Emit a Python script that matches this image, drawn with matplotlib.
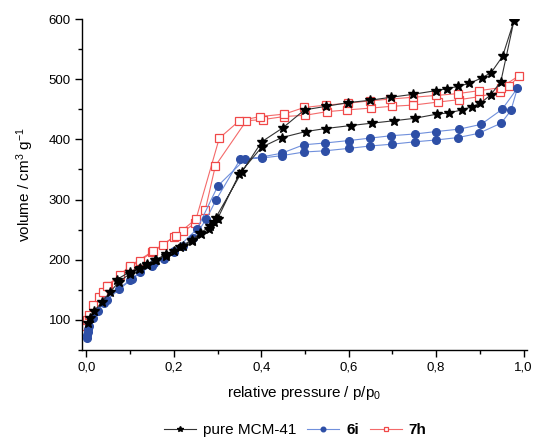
import matplotlib
matplotlib.use("Agg")
import matplotlib.pyplot as plt
from matplotlib.ticker import MultipleLocator, FuncFormatter

plt.rcParams['font.family'] = ['Liberation Sans', 'DejaVu Sans']
plt.rcParams['mathtext.default'] = 'regular'

# pure MCM-41: adsorption (low -> high p), desorption (high -> low p)
mcm_ads_x = [0.003, 0.008, 0.017, 0.036, 0.055, 0.074, 0.1, 0.12, 0.139, 0.16, 0.181, 0.2, 0.221, 0.241, 0.262, 0.28, 0.291, 0.3, 0.35, 0.401, 0.447, 0.502, 0.547, 0.605, 0.654, 0.704, 0.751, 0.802, 0.829, 0.859, 0.881, 0.901, 0.925, 0.948, 0.978]
mcm_ads_y = [95, 103, 114, 130, 147, 163, 177, 185, 191, 199, 207, 214, 222, 231, 242, 251, 263, 268, 343, 387, 403, 413, 418, 423, 427, 431, 435, 442, 444, 449, 454, 460, 474, 496, 597]
mcm_des_x = [0.952, 0.926, 0.904, 0.876, 0.849, 0.824, 0.8, 0.748, 0.697, 0.649, 0.598, 0.549, 0.499, 0.449, 0.401, 0.355, 0.296, 0.282, 0.261, 0.241, 0.215, 0.183, 0.158, 0.139, 0.122, 0.1, 0.069]
mcm_des_y = [538, 511, 502, 493, 488, 484, 481, 475, 470, 465, 461, 455, 449, 419, 396, 345, 270, 256, 244, 233, 221, 209, 200, 193, 187, 180, 167]

# 6i
s6i_ads_x = [0.001, 0.002, 0.003, 0.004, 0.006, 0.015, 0.026, 0.04, 0.074, 0.099, 0.123, 0.15, 0.177, 0.2, 0.221, 0.245, 0.274, 0.297, 0.352, 0.402, 0.447, 0.498, 0.546, 0.6, 0.649, 0.699, 0.752, 0.8, 0.85, 0.897, 0.949, 0.971, 0.986]
s6i_ads_y = [70, 75, 80, 85, 90, 103, 115, 128, 152, 166, 179, 190, 202, 213, 223, 236, 267, 300, 367, 369, 373, 379, 381, 385, 389, 392, 396, 399, 403, 410, 427, 448, 485]
s6i_des_x = [0.951, 0.903, 0.853, 0.8, 0.752, 0.696, 0.648, 0.6, 0.546, 0.497, 0.447, 0.402, 0.363, 0.301, 0.253, 0.2, 0.154, 0.104, 0.046]
s6i_des_y = [450, 425, 417, 413, 409, 406, 402, 398, 394, 391, 377, 371, 367, 323, 251, 214, 194, 168, 133]

# 7h
s7h_ads_x = [0.0, 0.002, 0.006, 0.016, 0.028, 0.038, 0.05, 0.076, 0.1, 0.122, 0.151, 0.175, 0.2, 0.222, 0.249, 0.272, 0.295, 0.366, 0.405, 0.453, 0.5, 0.55, 0.597, 0.651, 0.699, 0.748, 0.804, 0.853, 0.899, 0.946, 0.967, 0.99]
s7h_ads_y = [90, 100, 108, 124, 138, 146, 156, 174, 188, 198, 213, 225, 238, 247, 261, 283, 356, 431, 433, 438, 440, 446, 449, 452, 455, 457, 462, 466, 471, 479, 488, 506]
s7h_des_x = [0.948, 0.899, 0.849, 0.8, 0.748, 0.695, 0.648, 0.598, 0.549, 0.498, 0.453, 0.398, 0.35, 0.304, 0.251, 0.205, 0.152, 0.1, 0.048]
s7h_des_y = [486, 481, 476, 473, 470, 467, 464, 460, 457, 453, 442, 438, 431, 402, 268, 240, 214, 190, 157]

labels = ['pure MCM-41', '6i', '7h']

fig = plt.figure(figsize=(5.34, 4.38), dpi=100)
ax = fig.add_axes([0.1536, 0.2009, 0.8334, 0.7557])

ax.plot(s7h_ads_x + s7h_des_x, s7h_ads_y + s7h_des_y, color='#f46a6a', lw=0.8,
        marker='s', ms=5.5, mfc='white', mec='#f04848', mew=0.9, label=labels[2], zorder=2)
ax.plot(s6i_ads_x + s6i_des_x, s6i_ads_y + s6i_des_y, color='#7090dc', lw=0.8,
        marker='o', ms=5.5, mfc='#2e4fa6', mec='#2e4fa6', label=labels[1], zorder=3)
ax.plot(mcm_ads_x + mcm_des_x, mcm_ads_y + mcm_des_y, color='#333333', lw=0.8,
        marker='*', ms=7, mfc='black', mec='black', label=labels[0], zorder=4)

ax.set_xlim(-0.01, 1.008)
ax.set_ylim(50, 600)
ax.xaxis.set_major_locator(MultipleLocator(0.2))
ax.xaxis.set_minor_locator(MultipleLocator(0.1))
ax.yaxis.set_major_locator(MultipleLocator(100))
ax.yaxis.set_minor_locator(MultipleLocator(50))
ax.xaxis.set_major_formatter(FuncFormatter(lambda v, p: f'{v:.1f}'.replace('.', ',')))
ax.yaxis.set_major_formatter(FuncFormatter(lambda v, p: f'{v:.0f}'))
for s in ['top', 'right']:
    ax.spines[s].set_visible(False)
for s in ['left', 'bottom']:
    ax.spines[s].set_linewidth(1.0)
ax.tick_params(which='major', direction='out', length=5, width=1.0, labelsize=9.5, pad=3)
ax.tick_params(which='minor', direction='out', length=3, width=1.0)

ax.set_xlabel('relative pressure / p/p$_0$', fontsize=11, labelpad=8)
ax.set_ylabel('volume / cm$^3$ g$^{-1}$', fontsize=11, labelpad=9)

h, l = ax.get_legend_handles_labels()
order = [2, 1, 0]
leg = fig.legend([h[i] for i in order], [l[i] for i in order], loc='lower center',
                 bbox_to_anchor=(0.553, -0.03), ncol=3, frameon=False, fontsize=11,
                 handlelength=2.1, handletextpad=0.45, columnspacing=0.7, markerscale=0.6)
for t in leg.get_texts():
    if t.get_text() in ('6i', '7h'):
        t.set_fontweight('bold')

fig.savefig('out.png', dpi=100)
